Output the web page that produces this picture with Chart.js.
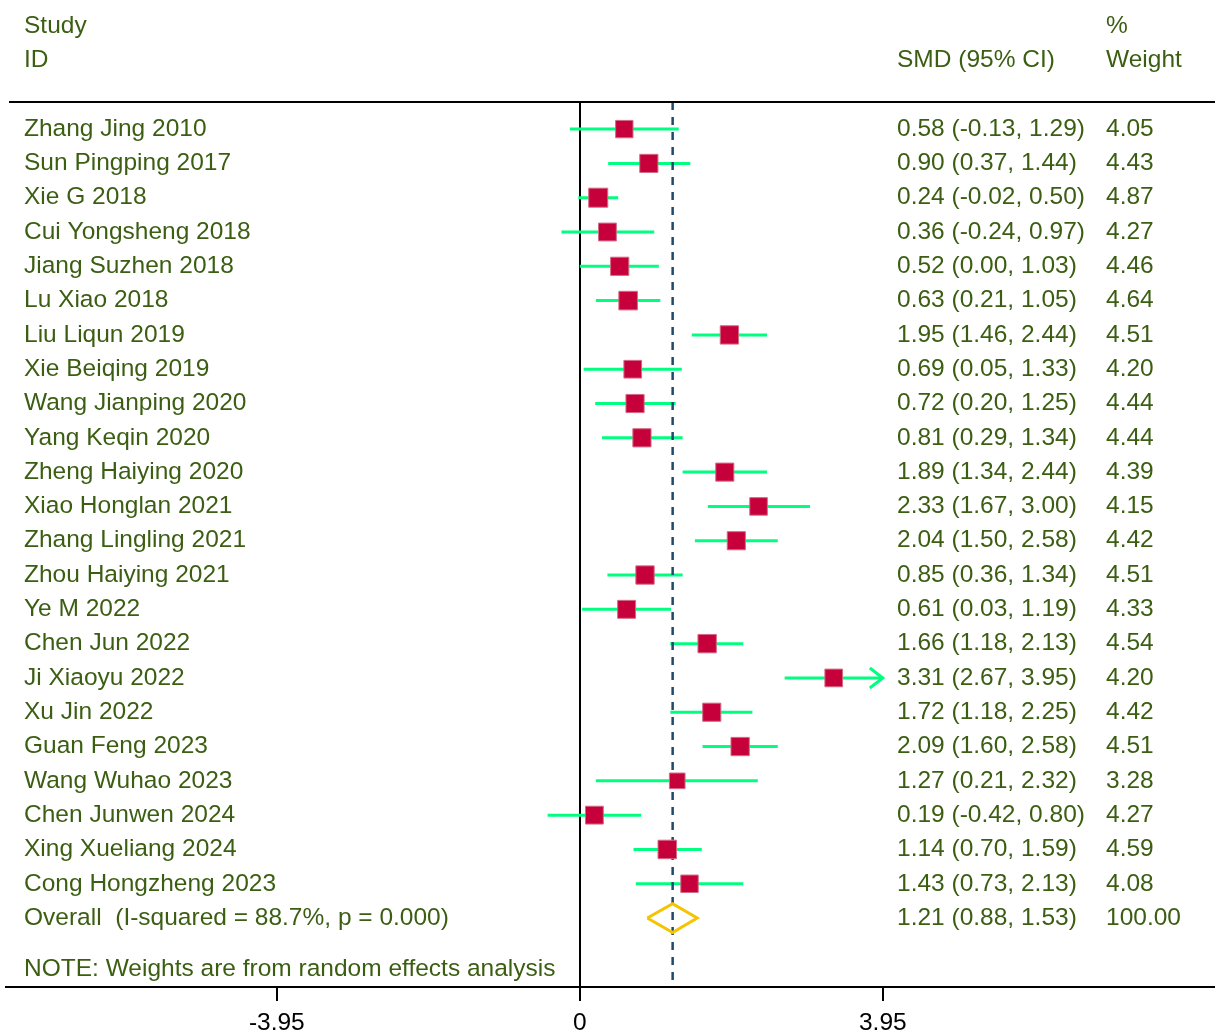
<!DOCTYPE html>
<html>
<head>
<meta charset="utf-8">
<title>Forest plot</title>
<script src="https://cdn.jsdelivr.net/npm/chart.js@4.4.1/dist/chart.umd.min.js"></script>
<style>
  html, body { margin: 0; padding: 0; background: #fff; }
  #wrap { width: 1215px; height: 1035px; }
</style>
</head>
<body>
<div id="wrap"><canvas id="forest" width="1215" height="1035"></canvas></div>
<script>
// study rows, top to bottom
const studies = [
  'Zhang Jing 2010', 'Sun Pingping 2017', 'Xie G 2018', 'Cui Yongsheng 2018',
  'Jiang Suzhen 2018', 'Lu Xiao 2018', 'Liu Liqun 2019', 'Xie Beiqing 2019',
  'Wang Jianping 2020', 'Yang Keqin 2020', 'Zheng Haiying 2020', 'Xiao Honglan 2021',
  'Zhang Lingling 2021', 'Zhou Haiying 2021', 'Ye M 2022', 'Chen Jun 2022',
  'Ji Xiaoyu 2022', 'Xu Jin 2022', 'Guan Feng 2023', 'Wang Wuhao 2023',
  'Chen Junwen 2024', 'Xing Xueliang 2024', 'Cong Hongzheng 2023'
];
const smd    = [0.58, 0.90, 0.24, 0.36, 0.52, 0.63, 1.95, 0.69, 0.72, 0.81, 1.89, 2.33, 2.04, 0.85, 0.61, 1.66, 3.31, 1.72, 2.09, 1.27, 0.19, 1.14, 1.43];
const ciLow  = [-0.13, 0.37, -0.02, -0.24, 0.00, 0.21, 1.46, 0.05, 0.20, 0.29, 1.34, 1.67, 1.50, 0.36, 0.03, 1.18, 2.67, 1.18, 1.60, 0.21, -0.42, 0.70, 0.73];
const ciHigh = [1.29, 1.44, 0.50, 0.97, 1.03, 1.05, 2.44, 1.33, 1.25, 1.34, 2.44, 3.00, 2.58, 1.34, 1.19, 2.13, 3.95, 2.25, 2.58, 2.32, 0.80, 1.59, 2.13];
const weights = [4.05, 4.43, 4.87, 4.27, 4.46, 4.64, 4.51, 4.20, 4.44, 4.44, 4.39, 4.15, 4.42, 4.51, 4.33, 4.54, 4.20, 4.42, 4.51, 3.28, 4.27, 4.59, 4.08];

// pooled estimate
const overallLabel = 'Overall  (I-squared = 88.7%, p = 0.000)';
const overallSmd = 1.21;
const overallLow = 0.88;
const overallHigh = 1.53;
const overallWeight = 100.00;
const noteText = 'NOTE: Weights are from random effects analysis';

const xTicks = [-3.95, 0, 3.95];

const FONT_FAMILY = '"Liberation Sans", Arial, sans-serif';
const TEXT_COLOR = '#3b5e12';
const Y_MIN = -0.79, Y_MAX = 25.01;
const overallRow = studies.length;

const fmt = v => v.toFixed(2);

// CI segments, separated by gaps
const ciData = [];
studies.forEach((s, i) => {
  ciData.push({ x: ciLow[i], y: i }, { x: ciHigh[i], y: i }, { x: null, y: null });
});

const boxData = studies.map((s, i) => ({ x: smd[i], y: i }));

const dh = 0.42; // diamond half height in rows
const diamondData = [
  { x: overallLow, y: overallRow },
  { x: overallSmd, y: overallRow - dh },
  { x: overallHigh, y: overallRow },
  { x: overallSmd, y: overallRow + dh },
  { x: overallLow, y: overallRow }
];

const textPlugin = {
  id: 'forestText',
  afterDraw(chart) {
    const ctx = chart.ctx;
    const xs = chart.scales.x, ys = chart.scales.y;
    const area = chart.chartArea;
    ctx.save();

    // top rule
    ctx.strokeStyle = '#000';
    ctx.lineWidth = 2;
    ctx.beginPath();
    ctx.moveTo(9, area.top);
    ctx.lineTo(chart.width, area.top);
    ctx.stroke();

    // arrow heads where the CI runs to the axis limit
    const xLimit = xTicks[xTicks.length - 1];
    ctx.strokeStyle = '#00ff80';
    ctx.lineWidth = 3;
    ctx.lineJoin = 'miter';
    studies.forEach((s, i) => {
      if (ciHigh[i] >= xLimit) {
        const px = xs.getPixelForValue(xLimit), py = ys.getPixelForValue(i);
        ctx.beginPath();
        ctx.moveTo(px - 13, py - 10);
        ctx.lineTo(px, py);
        ctx.lineTo(px - 13, py + 10);
        ctx.stroke();
      }
    });

    // text columns
    const colName = 24, colCi = 897, colW = 1106;
    ctx.font = '24.5px ' + FONT_FAMILY;
    ctx.fillStyle = TEXT_COLOR;
    ctx.textBaseline = 'middle';
    ctx.textAlign = 'left';

    ctx.fillText('Study', colName, ys.getPixelForValue(-3));
    ctx.fillText('ID', colName, ys.getPixelForValue(-2));
    ctx.fillText('SMD (95% CI)', colCi, ys.getPixelForValue(-2));
    ctx.fillText('%', colW, ys.getPixelForValue(-3));
    ctx.fillText('Weight', colW, ys.getPixelForValue(-2));

    studies.forEach((s, i) => {
      const py = ys.getPixelForValue(i);
      ctx.fillText(s, colName, py);
      ctx.fillText(fmt(smd[i]) + ' (' + fmt(ciLow[i]) + ', ' + fmt(ciHigh[i]) + ')', colCi, py);
      ctx.fillText(fmt(weights[i]), colW, py);
    });

    const po = ys.getPixelForValue(overallRow);
    ctx.fillText(overallLabel, colName, po);
    ctx.fillText(fmt(overallSmd) + ' (' + fmt(overallLow) + ', ' + fmt(overallHigh) + ')', colCi, po);
    ctx.fillText(fmt(overallWeight), colW, po);

    ctx.fillText(noteText, colName, ys.getPixelForValue(overallRow + 1.5));
    ctx.restore();
  }
};

new Chart(document.getElementById('forest'), {
  type: 'scatter',
  data: {
    datasets: [
      {
        label: 'CI',
        data: ciData,
        showLine: true,
        spanGaps: false,
        borderColor: '#00ff80',
        borderWidth: 3,
        pointRadius: 0,
        order: 3
      },
      {
        label: 'Overall line',
        data: [{ x: overallSmd, y: Y_MIN }, { x: overallSmd, y: Y_MAX }],
        showLine: true,
        borderColor: '#1f4a6b',
        borderWidth: 2.5,
        borderDash: [8, 7],
        pointRadius: 0,
        order: 2
      },
      {
        label: 'SMD',
        data: boxData,
        showLine: false,
        pointStyle: 'rect',
        pointRadius: c => 6.1 * Math.sqrt(weights[c.dataIndex] || 4),
        backgroundColor: '#c5003b',
        borderColor: '#d46a84',
        borderWidth: 1,
        order: 1
      },
      {
        label: 'Overall',
        data: diamondData,
        showLine: true,
        borderColor: '#f5c400',
        borderWidth: 3,
        borderJoinStyle: 'miter',
        pointRadius: 0,
        tension: 0,
        order: 1
      }
    ]
  },
  options: {
    responsive: false,
    animation: false,
    events: [],
    layout: { autoPadding: false, padding: { top: 102, left: 6, right: 0, bottom: -10.5 } },
    plugins: {
      legend: { display: false },
      tooltip: { enabled: false }
    },
    scales: {
      x: {
        type: 'linear',
        min: -7.48,
        max: 8.28,
        afterBuildTicks: s => { s.ticks = xTicks.map(v => ({ value: v })); },
        ticks: {
          autoSkip: false,
          maxRotation: 0,
          padding: 10,
          color: '#000',
          font: { family: FONT_FAMILY, size: 24.5, lineHeight: 1 },
          callback: v => String(v)
        },
        grid: {
          color: c => (c.tick && c.tick.value === 0) ? '#000' : 'rgba(0,0,0,0)',
          lineWidth: 2,
          tickColor: '#000',
          tickLength: 14,
          tickWidth: 2
        },
        border: { display: true, color: '#000', width: 2 }
      },
      y: {
        type: 'linear',
        reverse: true,
        min: Y_MIN,
        max: Y_MAX,
        display: false
      }
    }
  },
  plugins: [textPlugin]
});
</script>
</body>
</html>
